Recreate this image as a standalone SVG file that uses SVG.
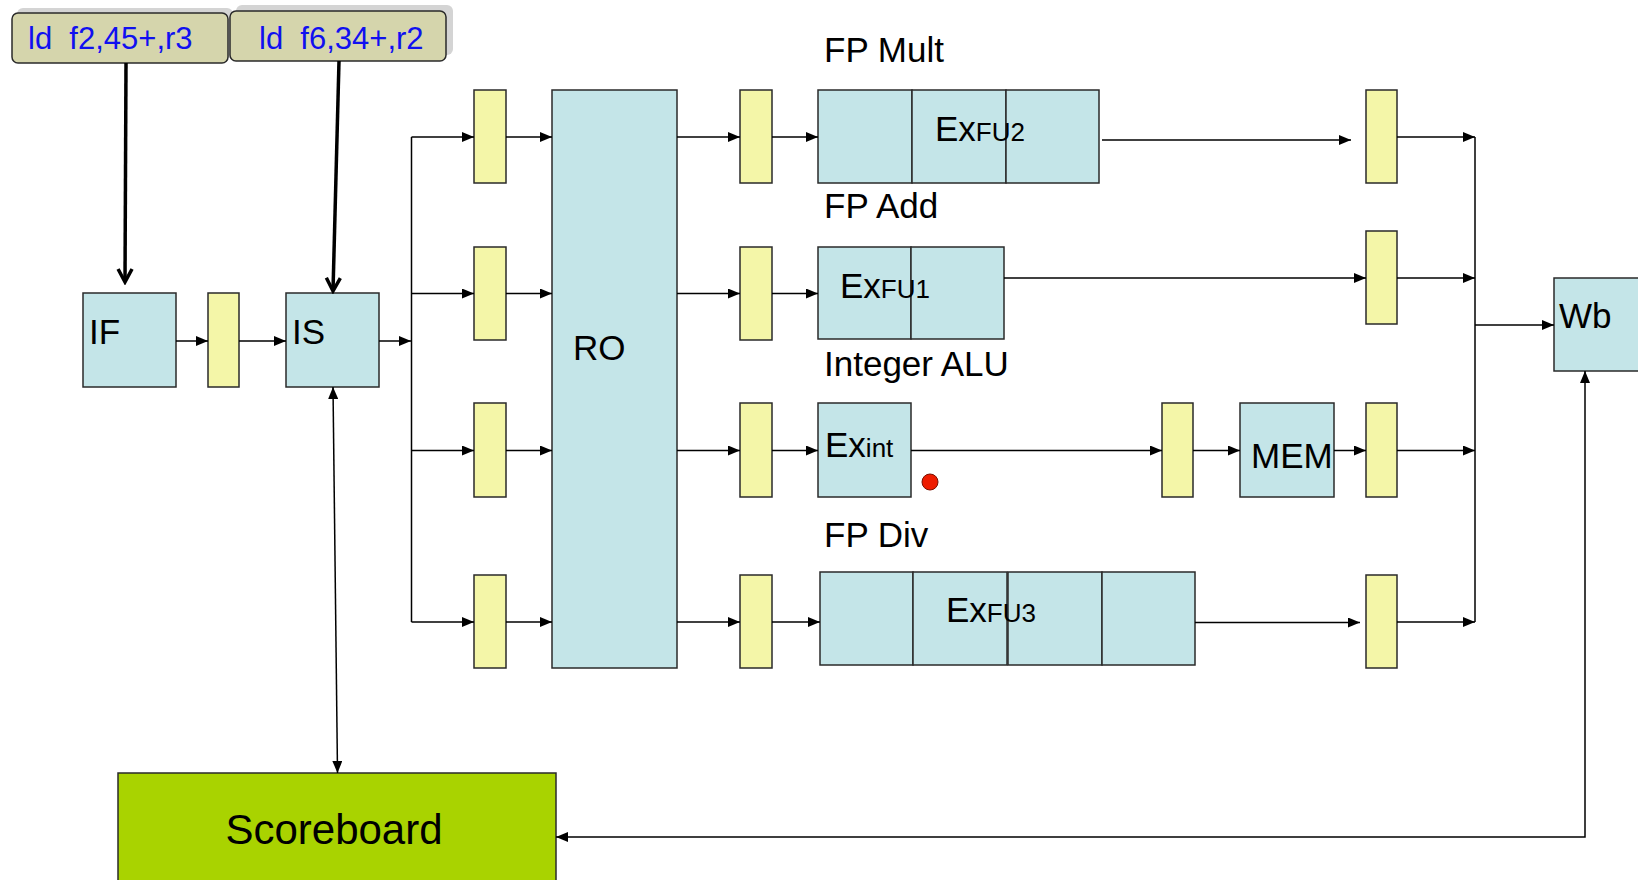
<svg xmlns="http://www.w3.org/2000/svg" width="1638" height="880" viewBox="0 0 1638 880">
<style>
.fu{fill:#c4e5e8;stroke:#2a2a2a;stroke-width:1.5}
.lt{fill:#f4f6a8;stroke:#2a2a2a;stroke-width:1.5}
.ld{fill:#d5d5ac;stroke:#2a2a2a;stroke-width:1.5}
.sh{fill:#d4d4d4}
.t{font-family:"Liberation Sans",Arial,sans-serif;font-size:35px;fill:#000}
.b{font-family:"Liberation Sans",Arial,sans-serif;font-size:31px;fill:#1010f0}
.c{fill:none;stroke:#000;stroke-width:1.5}
.a{marker-end:url(#ah)}
.k{fill:none;stroke:#000;stroke-width:3.5;marker-end:url(#chev)}
</style>
<defs>
<marker id="ah" viewBox="0 0 12 10" refX="12" refY="5" markerWidth="12" markerHeight="10" markerUnits="userSpaceOnUse" orient="auto"><path d="M0,0 L12,5 L0,10 z" fill="#000"/></marker>
<marker id="ahs" viewBox="0 0 12 10" refX="12" refY="5" markerWidth="12" markerHeight="10" markerUnits="userSpaceOnUse" orient="auto-start-reverse"><path d="M0,0 L12,5 L0,10 z" fill="#000"/></marker>
<marker id="chev" viewBox="0 0 18 18" refX="15" refY="9" markerWidth="18" markerHeight="18" markerUnits="userSpaceOnUse" orient="auto"><path d="M2,2 L15,9 L2,16" fill="none" stroke="#000" stroke-width="3.5"/></marker>
</defs>

<g id="instr1">
<rect class="sh" x="17" y="8" width="216" height="50" rx="6"/>
<rect class="ld" x="12" y="13" width="216" height="50" rx="6"/>
<text class="b" x="28" y="49" xml:space="preserve">ld  f2,45+,r3</text>
</g>
<g id="instr2">
<rect class="sh" x="236" y="5" width="217" height="50" rx="6"/>
<rect class="ld" x="230" y="11" width="216" height="50" rx="6"/>
<text class="b" x="259" y="49" xml:space="preserve">ld  f6,34+,r2</text>
</g>

<g id="IF"><rect class="fu" x="83" y="293" width="93" height="94"/><text class="t" x="89" y="344">IF</text></g>
<g id="latch-if"><rect class="lt" x="208" y="293" width="31" height="94"/></g>
<g id="IS"><rect class="fu" x="286" y="293" width="93" height="94"/><text class="t" x="292" y="344">IS</text></g>

<g id="latches-issue">
<rect class="lt" x="474" y="90" width="32" height="93"/>
<rect class="lt" x="474" y="247" width="32" height="93"/>
<rect class="lt" x="474" y="403" width="32" height="94"/>
<rect class="lt" x="474" y="575" width="32" height="93"/>
</g>
<g id="RO"><rect class="fu" x="552" y="90" width="125" height="578"/><text class="t" x="573" y="360">RO</text></g>
<g id="latches-ro">
<rect class="lt" x="740" y="90" width="32" height="93"/>
<rect class="lt" x="740" y="247" width="32" height="93"/>
<rect class="lt" x="740" y="403" width="32" height="94"/>
<rect class="lt" x="740" y="575" width="32" height="93"/>
</g>

<g id="labels">
<text class="t" x="824" y="62">FP Mult</text>
<text class="t" x="824" y="218">FP Add</text>
<text class="t" x="824" y="376">Integer ALU</text>
<text class="t" x="824" y="547">FP Div</text>
</g>

<g id="FPMult">
<rect class="fu" x="818" y="90" width="94" height="93"/>
<rect class="fu" x="912" y="90" width="94" height="93"/>
<rect class="fu" x="1006" y="90" width="93" height="93"/>
<text class="t" x="935" y="141"><tspan font-size="35">Ex</tspan><tspan font-size="26">FU2</tspan></text>
</g>
<g id="FPAdd">
<rect class="fu" x="818" y="247" width="93" height="92"/>
<rect class="fu" x="911" y="247" width="93" height="92"/>
<text class="t" x="840" y="298"><tspan font-size="35">Ex</tspan><tspan font-size="26">FU1</tspan></text>
</g>
<g id="IntALU">
<rect class="fu" x="818" y="403" width="93" height="94"/>
<text class="t" x="825" y="457"><tspan font-size="35">Ex</tspan><tspan font-size="26">int</tspan></text>
<circle cx="930" cy="482" r="8" fill="#ee1c00" stroke="#7a1000" stroke-width="1"/>
</g>
<g id="latch-mem"><rect class="lt" x="1162" y="403" width="31" height="94"/></g>
<g id="MEM"><rect class="fu" x="1240" y="403" width="94" height="94"/><text class="t" x="1251" y="468">MEM</text></g>
<g id="FPDiv">
<rect class="fu" x="820" y="572" width="93" height="93"/>
<rect class="fu" x="913" y="572" width="94" height="93"/>
<rect class="fu" x="1008" y="572" width="94" height="93"/>
<rect class="fu" x="1102" y="572" width="93" height="93"/>
<text class="t" x="946" y="622"><tspan font-size="35">Ex</tspan><tspan font-size="26">FU3</tspan></text>
</g>

<g id="latches-wb">
<rect class="lt" x="1366" y="90" width="31" height="93"/>
<rect class="lt" x="1366" y="231" width="31" height="93"/>
<rect class="lt" x="1366" y="403" width="31" height="94"/>
<rect class="lt" x="1366" y="575" width="31" height="93"/>
</g>
<g id="Wb"><rect class="fu" x="1554" y="278" width="100" height="93"/><text class="t" x="1559" y="328">Wb</text></g>

<g id="Scoreboard"><rect x="118" y="773" width="438" height="120" fill="#a9d300" stroke="#2a2a2a" stroke-width="1.5"/><text class="t" x="334" y="844" style="font-size:42px" text-anchor="middle">Scoreboard</text></g>

<g id="connectors">
<path class="k" d="M126,63 L125,282"/>
<path class="k" d="M339,61 L333,291"/>
<path class="c a" d="M176,341 L208,341"/>
<path class="c a" d="M239,341 L286,341"/>
<path class="c a" d="M379,341 L411,341"/>
<path class="c" d="M411.5,137 L411.5,622"/>
<path class="c a" d="M411.5,137 L474,137"/>
<path class="c a" d="M411.5,293.5 L474,293.5"/>
<path class="c a" d="M411.5,450.5 L474,450.5"/>
<path class="c a" d="M411.5,622 L474,622"/>
<path class="c a" d="M506,137 L552,137"/>
<path class="c a" d="M506,293.5 L552,293.5"/>
<path class="c a" d="M506,450.5 L552,450.5"/>
<path class="c a" d="M506,622 L552,622"/>
<path class="c a" d="M677,137 L740,137"/>
<path class="c a" d="M677,293.5 L740,293.5"/>
<path class="c a" d="M677,450.5 L740,450.5"/>
<path class="c a" d="M677,622 L740,622"/>
<path class="c a" d="M772,137 L818,137"/>
<path class="c a" d="M772,293.5 L818,293.5"/>
<path class="c a" d="M772,450.5 L818,450.5"/>
<path class="c a" d="M772,622 L820,622"/>
<path class="c a" d="M1102,140 L1351,140"/>
<path class="c a" d="M1004,278 L1366,278"/>
<path class="c a" d="M911,450.5 L1162,450.5"/>
<path class="c a" d="M1193,450.5 L1240,450.5"/>
<path class="c a" d="M1334,450.5 L1366,450.5"/>
<path class="c a" d="M1195,622.5 L1360,622.5"/>
<path class="c" d="M1475,137 L1475,622"/>
<path class="c a" d="M1397,137 L1475,137"/>
<path class="c a" d="M1397,278 L1475,278"/>
<path class="c a" d="M1397,450.5 L1475,450.5"/>
<path class="c a" d="M1397,622 L1475,622"/>
<path class="c a" d="M1475,325 L1554,325"/>
<path class="c" d="M333,387 L337.5,773" marker-start="url(#ahs)" marker-end="url(#ah)"/>
<path class="c a" d="M1585,371 L1585,837 L556,837" marker-start="url(#ahs)"/>
</g>
</svg>
